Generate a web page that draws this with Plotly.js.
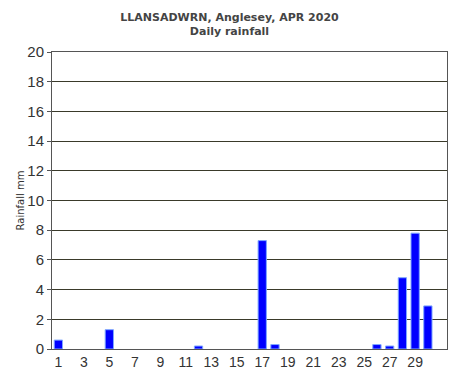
<!DOCTYPE html>
<html>
<head>
<meta charset="utf-8">
<script src="https://cdn.plot.ly/plotly-3.0.1.min.js"></script>
<style>html,body{margin:0;padding:0;background:#fff;}#chart{width:459px;height:378px;}</style>
</head>
<body>
<div id="chart"></div>
<script>
const days = [1,2,3,4,5,6,7,8,9,10,11,12,13,14,15,16,17,18,19,20,21,22,23,24,25,26,27,28,29,30];
const rainfall = [0.6,0,0,0,1.3,0,0,0,0,0,0,0.2,0,0,0,0,7.3,0.3,0,0,0,0,0,0,0,0.3,0.2,4.8,7.8,2.9];
const xTicks = [1,3,5,7,9,11,13,15,17,19,21,23,25,27,29];
const yTicks = [0,2,4,6,8,10,12,14,16,18,20];
const titleLines = ["LLANSADWRN, Anglesey, APR 2020", "Daily rainfall"];

Plotly.newPlot('chart', [{
  type: 'bar',
  x: days,
  y: rainfall,
  width: 0.65,
  marker: {color: '#0000ff', line: {color: '#7fa8ff', width: rainfall.map(v => v > 0 ? 1 : 0)}},
  hoverinfo: 'none'
}], {
  width: 459, height: 378,
  margin: {l: 52, r: 12, t: 52, b: 29},
  paper_bgcolor: '#fff', plot_bgcolor: '#fff',
  showlegend: false,
  title: {
    text: '<b>' + titleLines.join('<br>') + '</b>',
    font: {family: 'DejaVu Sans', size: 11, color: '#444'},
    x: 0.5, xanchor: 'center', y: 0.945, yanchor: 'top'
  },
  xaxis: {
    range: [0.5, 31.5],
    tickvals: xTicks,
    ticktext: xTicks.map(String),
    ticks: '', showgrid: false, zeroline: false,
    showline: true, linecolor: '#555', linewidth: 1, mirror: true,
    tickfont: {family: 'Liberation Sans', size: 14, color: '#333'},
    ticklabelstandoff: 0
  },
  yaxis: {
    range: [0, 20],
    tickvals: yTicks,
    ticks: 'outside', ticklen: 4, tickcolor: '#555',
    showgrid: true, gridcolor: '#3a3a2a', gridwidth: 1,
    zeroline: false,
    showline: true, linecolor: '#555', linewidth: 1, mirror: true,
    tickfont: {family: 'Liberation Sans', size: 15, color: '#333'},
    title: {text: 'Rainfall mm', font: {family: 'DejaVu Sans', size: 10, color: '#333'}, standoff: 0}
  }
}, {staticPlot: true});
</script>
</body>
</html>
